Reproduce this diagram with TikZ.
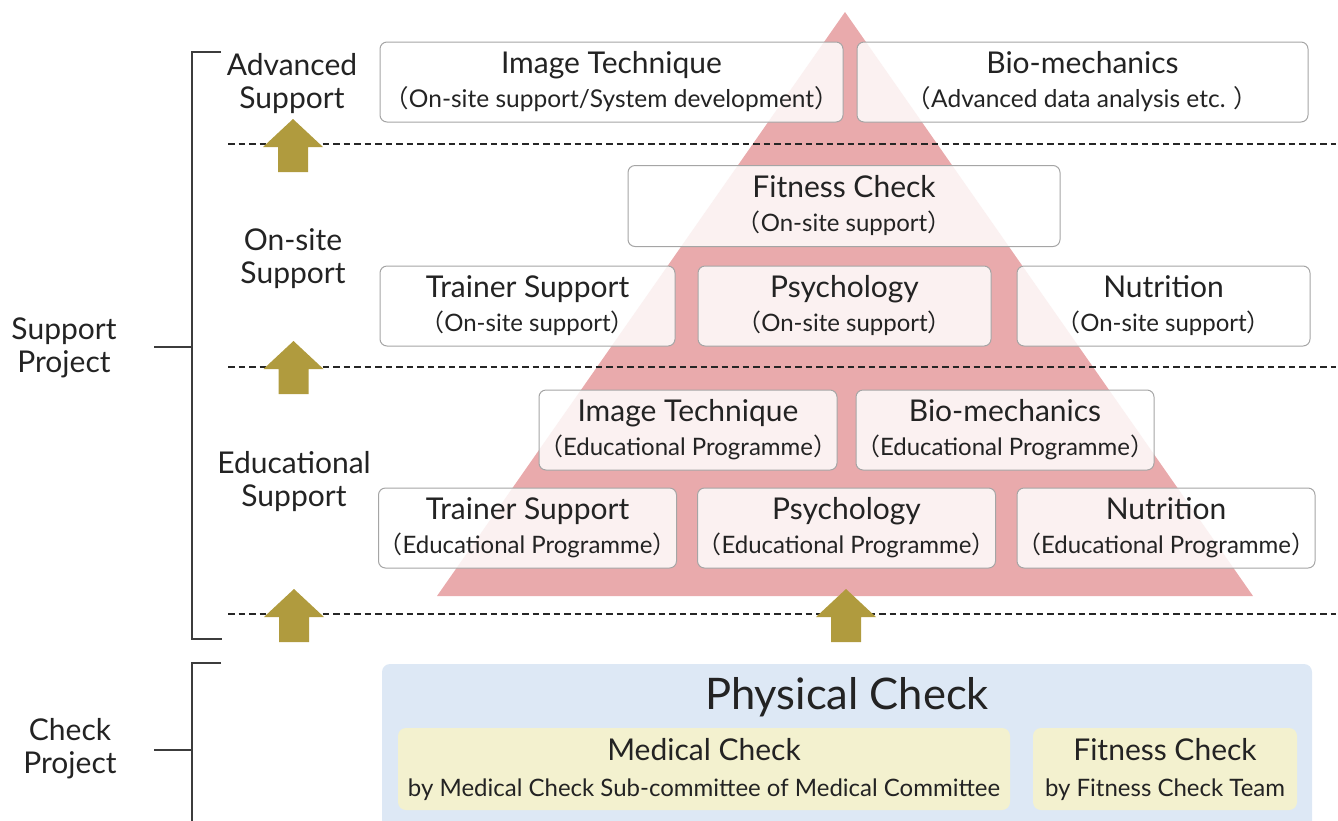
\documentclass[tikz,border=0pt]{standalone}
\usepackage{fontspec}
\setmainfont{Lato}
\newfontfamily\cjkfont{Noto Sans CJK JP}
\newcommand{\lpar}{{\cjkfont （}}
\newcommand{\rpar}{{\cjkfont ）}}
\newcommand{\ttlsize}{\fontsize{30}{34}\selectfont}
\newcommand{\subsize}{\fontsize{24}{26}\selectfont}
\newcommand{\subbig}{\fontsize{24.5}{26}\selectfont}
\definecolor{pinktri}{RGB}{233,170,172}
\definecolor{olivearr}{RGB}{176,155,62}
\definecolor{boxline}{RGB}{165,165,165}
\definecolor{txt}{RGB}{35,35,35}
\definecolor{bluebg}{RGB}{221,232,245}
\definecolor{yellowbg}{RGB}{243,241,207}
\definecolor{bracket}{RGB}{60,60,60}
\tikzset{
  box/.style={draw=boxline, line width=1pt, rounded corners=7pt, fill=white, fill opacity=0.84, text opacity=1,
    text=txt, align=center, font=\ttlsize, inner sep=0pt, minimum height=80pt},
  sidelabel/.style={text=txt, align=center, font=\fontsize{30}{33}\selectfont, inner sep=0pt},
  dashline/.style={draw=black!85, line width=1.8pt, dash pattern=on 6.5pt off 4pt},
  brk/.style={draw=bracket, line width=1.3pt},
  ybox/.style={fill=yellowbg, rounded corners=8pt, text=txt, align=center, inner sep=0pt, minimum height=82pt, font=\fontsize{30}{36}\selectfont},
  uparr/.pic={\fill[olivearr] (-15,0) -- (-15,-25) -- (-30,-25) -- (0,-53) -- (30,-25) -- (15,-25) -- (15,0) -- cycle;}
}
\begin{document}
\begin{tikzpicture}[x=1pt,y=-1pt]
\useasboundingbox (0,0) rectangle (1338,820);
% pyramid
\coordinate (apex) at (845,12);
\coordinate (bl) at (437,596);
\coordinate (br) at (1253,596);
\fill[pinktri] (apex) -- (bl) -- (br) -- cycle;
% boxes
\node[box, minimum width=463pt] (advimg) at (611.5,82) {Image Technique\\{\subbig\lpar On-site support/System development\rpar}};
\node[box, minimum width=451pt] (advbio) at (1082.5,82) {Bio-mechanics\\{\subbig\lpar Advanced data analysis etc. \rpar}};
\node[box, minimum width=432pt, minimum height=81pt] (onfit) at (844,206) {Fitness Check\\{\subsize\lpar On-site support\rpar}};
\node[box, minimum width=295pt] (ontr) at (527.5,306) {Trainer Support\\{\subsize\lpar On-site support\rpar}};
\node[box, minimum width=293pt] (onpsy) at (844.5,306) {Psychology\\{\subsize\lpar On-site support\rpar}};
\node[box, minimum width=293pt] (onnut) at (1163.5,306) {Nutrition\\{\subsize\lpar On-site support\rpar}};
\node[box, minimum width=293pt] (edimg) at (688,430) {Image Technique\\{\subsize\lpar Educational Programme\rpar}};
\node[box, minimum width=294pt] (edbio) at (1005,430) {Bio-mechanics\\{\subsize\lpar Educational Programme\rpar}};
\node[box, minimum width=293pt] (edtr) at (527.5,528) {Trainer Support\\{\subsize\lpar Educational Programme\rpar}};
\node[box, minimum width=293pt] (edpsy) at (846.5,528) {Psychology\\{\subsize\lpar Educational Programme\rpar}};
\node[box, minimum width=294pt] (ednut) at (1166,528) {Nutrition\\{\subsize\lpar Educational Programme\rpar}};
% dashed level lines
\coordinate (d1a) at (228,144); \coordinate (d1b) at (1336,144);
\coordinate (d2a) at (228,367); \coordinate (d2b) at (1336,367);
\coordinate (d3a) at (228,614); \coordinate (d3b) at (1336,614);
\draw[dashline] (d1a) -- (d1b);
\draw[dashline] (d2a) -- (d2b);
\draw[dashline] (d3a) -- (d3b);
% arrows
\pic at (293,172) {uparr};
\pic at (293.5,394) {uparr};
\pic at (294,642) {uparr};
\pic at (846,642) {uparr};
% brackets
\coordinate (s1) at (221,52); \coordinate (s2) at (192,52); \coordinate (s3) at (192,639); \coordinate (s4) at (222,639);
\coordinate (sm1) at (154,347); \coordinate (sm2) at (192,347);
\draw[brk] (s1) -- (s2) -- (s3) -- (s4);
\draw[brk] (sm1) -- (sm2);
\coordinate (c1) at (221,663); \coordinate (c2) at (192,663); \coordinate (c3) at (192,822);
\coordinate (cm1) at (154,750); \coordinate (cm2) at (192,750);
\draw[brk] (c1) -- (c2) -- (c3);
\draw[brk] (cm1) -- (cm2);
% side labels
\node[sidelabel] (lsup) at (64,348) {Support\\Project};
\node[sidelabel] (lchk) at (70,749) {Check\\Project};
\node[sidelabel] (ladv) at (292,84) {Advanced\\Support};
\node[sidelabel] (lons) at (293,259) {On-site\\Support};
\node[sidelabel] (ledu) at (294,482) {Educational\\Support};
% physical check
\fill[bluebg, rounded corners=8pt] (382,664) rectangle (1312,840);
\node[text=txt, font=\fontsize{43.5}{46}\selectfont, inner sep=0pt] (phys) at (847,697) {Physical Check};
\node[ybox, minimum width=612pt] (med) at (704,769) {Medical Check\\{\fontsize{24}{26}\selectfont by Medical Check Sub-committee of Medical Committee}};
\node[ybox, minimum width=264pt] (fit) at (1165,769) {Fitness Check\\{\fontsize{24}{26}\selectfont by Fitness Check Team}};
\end{tikzpicture}
\end{document}
